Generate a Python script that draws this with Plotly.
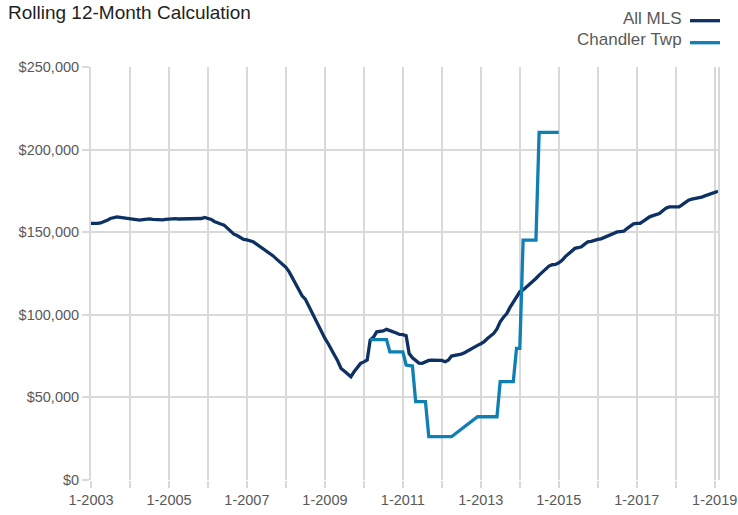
import pandas as pd
import plotly.graph_objects as go

# ---- data (values in thousands of dollars) ----
all_mls_start = "2003-01-01"
all_mls_k = [
    # 2003
    155.3, 155.2, 155.3, 155.6, 156.2, 157.2, 158.3, 159.0, 159.3, 159.0, 158.7, 158.8,
    # 2004
    158.5, 158.2, 157.6, 157.3, 157.6, 158.0, 158.1, 157.8, 157.6, 157.4, 157.5, 157.8,
    # 2005
    158.0, 158.1, 158.2, 158.0, 158.0, 158.1, 158.1, 158.0, 158.0, 158.2, 158.3, 158.9,
    # 2006
    158.2, 157.7, 156.5, 155.5, 155.0, 154.3, 152.5, 150.2, 148.8, 148.0, 146.5, 145.6,
    # 2007
    145.3, 144.8, 144.2, 142.8, 141.5, 140.2, 139.0, 137.6, 135.8, 134.0, 132.1, 130.5,
    # 2008
    128.7, 126.0, 122.5, 118.5, 115.0, 111.5, 109.5, 105.5, 101.0, 97.5, 92.7, 89.0,
    # 2009
    85.7, 82.5, 78.7, 75.5, 72.0, 67.5, 66.0, 64.0, 62.5, 65.5, 68.5, 70.6,
    # 2010
    71.5, 72.6, 84.7, 86.5, 89.7, 90.0, 90.2, 91.2, 90.5, 90.1, 89.0, 88.1,
    # 2011
    88.0, 87.3, 76.6, 74.0, 72.6, 70.8, 70.6, 71.5, 72.4, 72.6, 72.6, 72.5,
    # 2012
    72.4, 71.6, 72.5, 75.0, 75.3, 75.6, 76.2, 77.0, 78.2, 79.7, 80.5, 81.5,
    # 2013
    82.5, 83.7, 85.5, 87.0, 88.7, 91.5, 95.8, 98.5, 100.8, 104.5, 107.9, 110.5,
    # 2014
    113.9, 115.0, 116.5, 118.5, 120.0, 122.0, 124.0, 126.0, 128.0, 129.5, 130.3, 130.5,
    # 2015
    131.5, 133.0, 135.1, 136.8, 138.5, 140.2, 140.6, 141.2, 142.8, 144.2, 144.5, 145.2,
    # 2016
    145.6, 146.0, 146.8, 147.6, 148.5, 149.3, 150.2, 150.4, 150.6, 152.2, 153.8, 155.0,
    # 2017
    155.3, 155.4, 156.5, 158.0, 159.3, 160.0, 160.8, 161.3, 163.0, 164.5, 165.3, 165.3,
    # 2018
    165.3, 165.3, 166.5, 168.0, 169.4, 170.0, 170.3, 170.4, 171.2, 172.0, 172.8, 173.5,
    # 2019
    174.2, 174.8,
]

chandler_start = "2010-03-01"
chandler_k = [
    85.0, 85.0, 85.0, 85.0, 85.0, 85.0,                 # Mar-Aug 2010
    77.6, 77.6, 77.6, 77.6, 77.6,                       # Sep 2010-Jan 2011
    69.6, 69.3, 69.0,                                   # Feb-Apr 2011
    47.4, 47.4, 47.4, 47.4,                             # May-Aug 2011
    26.2, 26.2, 26.2, 26.2, 26.2, 26.2, 26.2, 26.2,     # Sep 2011-Apr 2012
    None, None, None, None, None, None, None,           # May-Nov 2012 (no data)
    38.3, 38.3, 38.3, 38.3, 38.3, 38.3, 38.3,           # Dec 2012-Jun 2013
    59.5, 59.5, 59.5, 59.5, 59.5,                       # Jul-Nov 2013
    79.7, 79.7,                                         # Dec 2013-Jan 2014
    145.2, 145.2, 145.2, 145.2, 145.2,                  # Feb-Jun 2014
    210.4, 210.4, 210.4, 210.4, 210.4, 210.4, 210.4,    # Jul 2014-Jan 2015
]

series_names = ["All MLS", "Chandler Twp"]
series_colors = ["#0c3162", "#0f7fb4"]

x_tick_years = list(range(2003, 2020))
x_tick_labels = [f"1-{y}" if y % 2 == 1 else "" for y in x_tick_years]
y_tick_vals = [0, 50000, 100000, 150000, 200000, 250000]
y_tick_labels = ["$0", "$50,000", "$100,000", "$150,000", "$200,000", "$250,000"]

# ---- build ----
all_dates = pd.date_range(all_mls_start, periods=len(all_mls_k), freq="MS")
ch_dates = pd.date_range(chandler_start, periods=len(chandler_k), freq="MS")
all_vals = [v * 1000 for v in all_mls_k]
ch_vals = [None if v is None else v * 1000 for v in chandler_k]

W, H = 738, 515
ML, MR, MT, MB = 91, 20, 67, 35
PW, PH = W - ML - MR, H - MT - MB


def px_x(x):
    return (x - ML) / PW


def px_y(y):
    return (H - MB - y) / PH


FONT = "Liberation Sans, Arial, sans-serif"
GRID = "#d9d9d9"
TXT = "#595959"

fig = go.Figure()
fig.add_trace(go.Scatter(x=all_dates, y=all_vals, mode="lines", name=series_names[0],
                         line=dict(color=series_colors[0], width=3.3), showlegend=False))
fig.add_trace(go.Scatter(x=ch_dates, y=ch_vals, mode="lines", name=series_names[1],
                         connectgaps=True,
                         line=dict(color=series_colors[1], width=3.3), showlegend=False))

# custom legend (text on the left, line swatch on the right)
leg_rows = [(series_names[0], series_colors[0], 19, 20.7), (series_names[1], series_colors[1], 40, 42.7)]
for name, col, ty, ly in leg_rows:
    fig.add_annotation(xref="paper", yref="paper", x=px_x(684), y=px_y(ty), text=name,
                       showarrow=False, xanchor="right", yanchor="middle",
                       font=dict(family=FONT, size=17, color=TXT))
    fig.add_shape(type="line", xref="paper", yref="paper", x0=px_x(690), x1=px_x(720),
                  y0=px_y(ly), y1=px_y(ly), line=dict(color=col, width=3.3))

fig.update_layout(
    width=W, height=H,
    margin=dict(l=ML, r=MR, t=MT, b=MB, autoexpand=False),
    paper_bgcolor="white", plot_bgcolor="white",
    font=dict(family=FONT, size=14.5, color=TXT),
    title=dict(text="Rolling 12-Month Calculation", x=8 / W, xref="container", xanchor="left",
               y=1 - 12 / H, yref="container", yanchor="middle", automargin=False,
               font=dict(family=FONT, size=19, color="#1f1f1f")),
    xaxis=dict(
        type="date",
        range=[all_dates[0], all_dates[-1]],
        tickvals=[pd.Timestamp(f"{y}-01-01") for y in x_tick_years],
        ticktext=x_tick_labels,
        showgrid=True, gridcolor=GRID, gridwidth=2,
        ticks="outside", ticklen=7, tickwidth=2, tickcolor=GRID,
        showline=False, zeroline=False, automargin=False,
        tickfont=dict(family=FONT, size=14.5, color=TXT),
    ),
    yaxis=dict(
        range=[0, 250000],
        tickvals=y_tick_vals,
        ticktext=y_tick_labels,
        showgrid=True, gridcolor=GRID, gridwidth=2,
        ticks="outside", ticklen=7, tickwidth=2, tickcolor=GRID,
        showline=True, linecolor=GRID, linewidth=2, mirror=True,
        zeroline=False, automargin=False,
        tickfont=dict(family=FONT, size=14.5, color=TXT),
    ),
)

fig.write_html(
    "out.html",
    config={"displayModeBar": False},
    post_script="document.body.style.margin='0';document.body.style.overflow='hidden';",
)
